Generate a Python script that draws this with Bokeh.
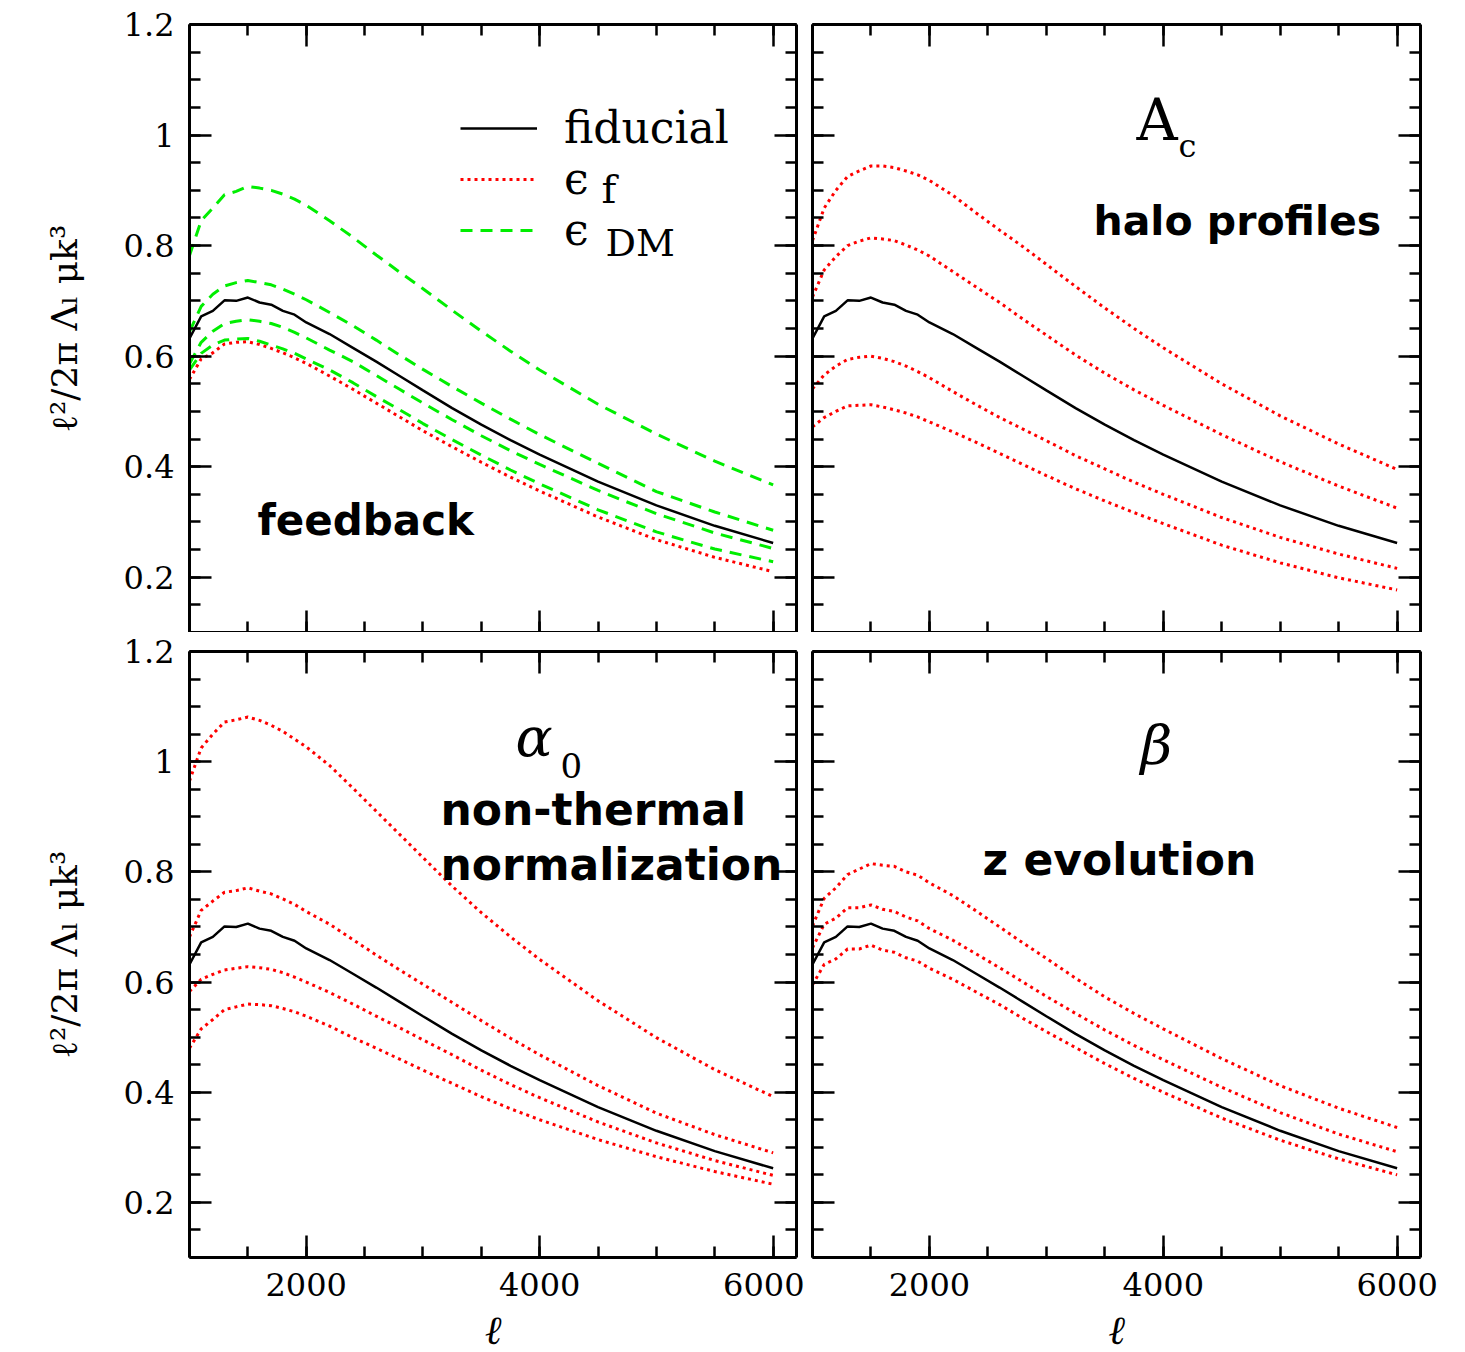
from bokeh.plotting import figure
from bokeh.layouts import column, row
from bokeh.models import (Range1d, LinearAxis, FixedTicker, CustomJSTickFormatter,
                          Label, Legend, LegendItem)
from bokeh.embed import file_html
from bokeh.resources import INLINE

# ---------------- data ----------------
ell = [1000, 1100, 1200, 1300, 1400, 1500, 1600, 1700, 1800, 1900, 2000, 2200,
       2400, 2600, 2800, 3000, 3250, 3500, 3750, 4000, 4500, 5000, 5500, 6000]

fiducial = [0.632, 0.672, 0.682, 0.701, 0.700, 0.706, 0.697, 0.693, 0.682, 0.675, 0.661, 0.640,
            0.615, 0.590, 0.564, 0.538, 0.506, 0.476, 0.448, 0.422, 0.373, 0.330, 0.293, 0.262]

# feedback panel
eps_f = [0.558, 0.595, 0.606, 0.622, 0.625, 0.626, 0.621, 0.614, 0.606, 0.597, 0.587, 0.564,
         0.540, 0.515, 0.490, 0.465, 0.436, 0.408, 0.381, 0.356, 0.309, 0.268, 0.236, 0.210]
eps_dm_1 = [0.782, 0.845, 0.868, 0.892, 0.898, 0.907, 0.904, 0.900, 0.893, 0.884, 0.873, 0.845,
            0.815, 0.783, 0.752, 0.722, 0.683, 0.645, 0.609, 0.575, 0.513, 0.459, 0.410, 0.367]
eps_dm_2 = [0.644, 0.690, 0.712, 0.727, 0.733, 0.737, 0.733, 0.729, 0.721, 0.712, 0.702, 0.679,
            0.655, 0.629, 0.602, 0.576, 0.545, 0.515, 0.486, 0.458, 0.406, 0.355, 0.318, 0.285]
eps_dm_3 = [0.586, 0.625, 0.645, 0.659, 0.663, 0.666, 0.663, 0.659, 0.652, 0.643, 0.633, 0.611,
            0.590, 0.565, 0.540, 0.515, 0.485, 0.456, 0.429, 0.404, 0.357, 0.315, 0.280, 0.252]
eps_dm_4 = [0.575, 0.605, 0.620, 0.629, 0.631, 0.632, 0.627, 0.620, 0.613, 0.605, 0.595, 0.575,
            0.552, 0.527, 0.503, 0.478, 0.449, 0.421, 0.394, 0.369, 0.322, 0.282, 0.251, 0.228]

# halo profiles panel (A_c)
ac_1 = [0.809, 0.868, 0.900, 0.925, 0.935, 0.944, 0.944, 0.941, 0.935, 0.928, 0.918, 0.891,
        0.859, 0.828, 0.798, 0.766, 0.726, 0.687, 0.650, 0.615, 0.550, 0.492, 0.441, 0.395]
ac_2 = [0.707, 0.756, 0.780, 0.800, 0.808, 0.814, 0.812, 0.809, 0.801, 0.792, 0.781, 0.753,
        0.725, 0.697, 0.667, 0.638, 0.602, 0.569, 0.539, 0.511, 0.458, 0.409, 0.365, 0.325]
ac_3 = [0.541, 0.566, 0.582, 0.594, 0.598, 0.600, 0.596, 0.590, 0.582, 0.572, 0.561, 0.536,
        0.512, 0.489, 0.468, 0.447, 0.420, 0.396, 0.372, 0.350, 0.308, 0.272, 0.242, 0.216]
ac_4 = [0.472, 0.489, 0.500, 0.510, 0.511, 0.512, 0.508, 0.503, 0.497, 0.490, 0.481, 0.463,
        0.444, 0.424, 0.404, 0.384, 0.360, 0.338, 0.317, 0.297, 0.258, 0.226, 0.199, 0.177]

# non-thermal normalization panel (alpha_0)
alpha_1 = [0.965, 1.025, 1.050, 1.072, 1.076, 1.081, 1.075, 1.066, 1.055, 1.041, 1.027, 0.993,
           0.952, 0.910, 0.868, 0.826, 0.774, 0.726, 0.682, 0.641, 0.566, 0.499, 0.441, 0.392]
alpha_2 = [0.682, 0.730, 0.747, 0.763, 0.766, 0.771, 0.765, 0.760, 0.751, 0.741, 0.728, 0.705,
           0.677, 0.649, 0.622, 0.596, 0.563, 0.530, 0.498, 0.468, 0.412, 0.362, 0.323, 0.290]
alpha_3 = [0.583, 0.605, 0.614, 0.622, 0.625, 0.628, 0.626, 0.623, 0.617, 0.609, 0.600, 0.581,
           0.560, 0.538, 0.517, 0.495, 0.468, 0.440, 0.414, 0.390, 0.346, 0.308, 0.276, 0.249]
alpha_4 = [0.480, 0.515, 0.532, 0.550, 0.555, 0.560, 0.559, 0.557, 0.552, 0.546, 0.538, 0.520,
           0.499, 0.480, 0.460, 0.440, 0.416, 0.392, 0.370, 0.350, 0.314, 0.283, 0.256, 0.233]

# z evolution panel (beta)
beta_1 = [0.702, 0.752, 0.771, 0.795, 0.805, 0.815, 0.812, 0.810, 0.800, 0.794, 0.780, 0.757,
          0.729, 0.700, 0.671, 0.643, 0.607, 0.573, 0.543, 0.515, 0.461, 0.412, 0.371, 0.336]
beta_2 = [0.662, 0.705, 0.716, 0.735, 0.735, 0.740, 0.732, 0.728, 0.718, 0.711, 0.697, 0.676,
          0.651, 0.626, 0.600, 0.574, 0.543, 0.513, 0.485, 0.459, 0.409, 0.363, 0.324, 0.292]
beta_3 = [0.595, 0.632, 0.642, 0.660, 0.660, 0.667, 0.658, 0.654, 0.644, 0.638, 0.625, 0.605,
          0.582, 0.559, 0.534, 0.510, 0.481, 0.452, 0.425, 0.400, 0.353, 0.313, 0.279, 0.250]

x_major = [2000, 4000, 6000]
x_minor = [1000, 1500, 2000, 2500, 3000, 3500, 4000, 4500, 5000, 5500, 6000]
y_major = [0.2, 0.4, 0.6, 0.8, 1, 1.2]
y_minor = [0.1, 0.15, 0.2, 0.25, 0.3, 0.35, 0.4, 0.45, 0.5, 0.55, 0.6, 0.65, 0.7, 0.75,
           0.8, 0.85, 0.9, 0.95, 1.0, 1.05, 1.1, 1.15, 1.2]

x_label = "ℓ"
y_label = "ℓ²/2π Λₗ μk³"

SERIF = "DejaVu Serif"
SANS = "DejaVu Sans"
RED = "#ff0000"
GREEN = "#00ee00"


def make_panel(show_x, show_y, bl, br, bt, bb, frame_w, frame_h):
    p = figure(frame_width=frame_w, frame_height=frame_h,
               x_range=Range1d(1000, 6200), y_range=Range1d(0.1, 1.2),
               x_axis_location=None, y_axis_location=None,
               output_backend="svg", toolbar_location=None,
               min_border_left=bl, min_border_right=br,
               min_border_top=bt, min_border_bottom=bb,
               background_fill_color="white", border_fill_color="white")
    p.outline_line_color = None
    p.xgrid.visible = False
    p.ygrid.visible = False
    for loc in ["below", "above", "left", "right"]:
        is_x = loc in ("below", "above")
        if is_x:
            ticker = FixedTicker(ticks=x_major, minor_ticks=x_minor)
        else:
            ticker = FixedTicker(ticks=y_major, minor_ticks=y_minor)
        ax = LinearAxis(ticker=ticker)
        ax.axis_line_color = "black"
        ax.axis_line_width = 3
        ax.major_tick_line_color = "black"
        ax.major_tick_line_width = 2.5
        ax.minor_tick_line_color = "black"
        ax.minor_tick_line_width = 2.5
        ax.major_tick_in = 22
        ax.major_tick_out = 0
        ax.minor_tick_in = 11
        ax.minor_tick_out = 0
        shown = (loc == "below" and show_x) or (loc == "left" and show_y)
        if shown:
            ax.major_label_text_font = SERIF
            ax.major_label_text_font_size = "32px"
            ax.major_label_text_color = "black"
            ax.major_label_standoff = 15
            if not is_x:
                ax.formatter = CustomJSTickFormatter(code="return String(+tick.toFixed(2));")
        else:
            ax.major_label_text_color = None
            ax.major_label_text_font_size = "0px"
            ax.major_label_standoff = 0
        if loc == "left" and show_y:
            ax.axis_label = y_label
            ax.axis_label_text_font = SERIF
            ax.axis_label_text_color = "black"
            ax.axis_label_text_font_style = "normal"
            ax.axis_label_text_font_size = "36px"
            ax.axis_label_standoff = 36
        if loc == "below" and show_x:
            ax.axis_label = x_label
            ax.axis_label_text_font = SERIF
            ax.axis_label_text_color = "black"
            ax.axis_label_text_font_style = "italic"
            ax.axis_label_text_font_size = "40px"
            ax.axis_label_standoff = 8
        p.add_layout(ax, loc)
    return p


def bold_label(p, x, y, text, size="41px"):
    p.add_layout(Label(x=x, y=y, text=text, text_font=SANS, text_font_style="bold",
                       text_font_size=size, text_color="black",
                       text_align="left", text_baseline="alphabetic"))


def serif_label(p, x, y, text, size, style="normal"):
    p.add_layout(Label(x=x, y=y, text=text, text_font=SERIF, text_font_style=style,
                       text_font_size=size, text_color="black",
                       text_align="left", text_baseline="alphabetic"))


def solid(p, ys):
    return p.line(ell, ys, line_color="black", line_width=2.5)


def dotted(p, ys):
    return p.line(ell, ys, line_color=RED, line_width=3, line_dash="3 4")


def dashed(p, ys):
    return p.line(ell, ys, line_color=GREEN, line_width=3, line_dash="12 8")


# ---------------- top-left: feedback ----------------
tl = make_panel(False, True, 189, 8, 24, 0, 607, 608)
r_fid = solid(tl, fiducial)
r_f = dotted(tl, eps_f)
r_dm = [dashed(tl, s) for s in (eps_dm_1, eps_dm_2, eps_dm_3, eps_dm_4)]
legend = Legend(items=[LegendItem(label="fiducial", renderers=[r_fid]),
                       LegendItem(label="ϵ", renderers=[r_f]),
                       LegendItem(label="ϵ", renderers=[r_dm[0]])],
                location=(271, 377), orientation="vertical",
                glyph_width=77, glyph_height=40, label_standoff=27,
                label_text_font=SERIF, label_text_font_size="44px",
                label_text_color="black",
                label_height=51, spacing=0, padding=0, margin=0,
                border_line_color=None, background_fill_alpha=0)
tl.add_layout(legend)
serif_label(tl, 4529, 0.903, "f", "40px")
serif_label(tl, 4564, 0.805, "DM", "38px")
bold_label(tl, 1582, 0.302, "feedback", "42px")

# ---------------- top-right: halo profiles ----------------
tr = make_panel(False, False, 8, 45, 24, 0, 608, 608)
for s in (ac_1, ac_2, ac_3, ac_4):
    dotted(tr, s)
solid(tr, fiducial)
serif_label(tr, 3771, 1.028, "A", "57px")
serif_label(tr, 4130, 0.980, "c", "32px")
bold_label(tr, 3403, 0.844, "halo profiles")

# ---------------- bottom-left: non-thermal normalization ----------------
bl = make_panel(True, True, 189, 8, 19, 95, 607, 606)
for s in (alpha_1, alpha_2, alpha_3, alpha_4):
    dotted(bl, s)
solid(bl, fiducial)
serif_label(bl, 3793, 1.044, "α", "55px", "italic")
serif_label(bl, 4178, 0.993, "0", "34px")
bold_label(bl, 3150, 0.913, "non-thermal", "44px")
bold_label(bl, 3150, 0.813, "normalization", "44px")

# ---------------- bottom-right: z evolution ----------------
br = make_panel(True, False, 8, 45, 19, 95, 608, 606)
for s in (beta_1, beta_2, beta_3):
    dotted(br, s)
solid(br, fiducial)
serif_label(br, 3805, 1.030, "β", "55px", "italic")
bold_label(br, 2454, 0.823, "z evolution", "44px")

layout = column(row(tl, tr), row(bl, br))
open("out.html", "w").write(file_html(layout, INLINE))
